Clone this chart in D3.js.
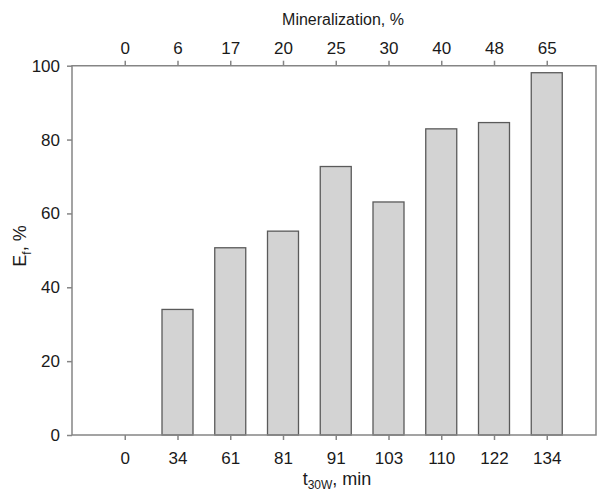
<!DOCTYPE html>
<html>
<head>
<meta charset="utf-8">
<script src="https://cdn.jsdelivr.net/npm/d3@7"></script>
<style>
  body { margin: 0; background: #fff; }
  svg text { font-family: Arial, "Liberation Sans", sans-serif; fill: #1a1a1a; }
</style>
</head>
<body>
<svg id="chart" width="597" height="491"></svg>
<script>
// data
var timeLabels = ['0', '34', '61', '81', '91', '103', '110', '122', '134'];   // t30W, min (bottom)
var mineralLabels = ['0', '6', '17', '20', '25', '30', '40', '48', '65'];     // mineralization, % (top)
var efValues = [0, 34.0, 50.7, 55.2, 72.7, 63.1, 82.9, 84.6, 98.1];          // Ef, %
var yTicks = [0, 20, 40, 60, 80, 100];

var svg = d3.select('#chart');

// plot frame (note: "top" is reserved on window, so use plot* names)
var plotLeft = 72, plotRight = 596, plotTop = 65.7, plotBottom = 435;
var axisColor = '#858585';

var x = d3.scalePoint()
    .domain(d3.range(timeLabels.length))
    .range([plotLeft, 599.5])
    .padding(1);

var y = d3.scaleLinear()
    .domain([0, 100])
    .range([plotBottom, plotTop]);

var barWidth = 31;

// bars
svg.append('g')
   .selectAll('rect')
   .data(efValues)
   .enter().append('rect')
    .attr('x', function(d, i) { return x(i) - barWidth / 2; })
    .attr('y', function(d) { return y(d); })
    .attr('width', barWidth)
    .attr('height', function(d) { return y(0) - y(d); })
    .style('fill', '#d3d3d3')
    .style('stroke', '#5a5a5a')
    .style('stroke-width', 1.3);

// frame
svg.append('path')
   .attr('d', 'M' + plotLeft + ',' + plotTop + 'H' + plotRight + 'V' + plotBottom + 'H' + plotLeft + 'Z')
   .style('fill', 'none')
   .style('stroke', axisColor)
   .style('stroke-width', 1.5);

function styleAxis(g) {
    g.select('.domain').remove();
    g.selectAll('.tick line').style('stroke', axisColor).style('stroke-width', 1.5);
    g.selectAll('.tick text').style('font-size', '17px').style('fill', '#1a1a1a')
      .style('font-family', 'Arial, "Liberation Sans", sans-serif');
}

var xBottom = d3.axisBottom(x)
    .tickFormat(function(i) { return timeLabels[i]; })
    .tickSize(5).tickSizeOuter(0).tickPadding(12);
svg.append('g').attr('transform', 'translate(0,' + plotBottom + ')').call(xBottom).call(styleAxis);

var xTop = d3.axisTop(x)
    .tickFormat(function(i) { return mineralLabels[i]; })
    .tickSize(5).tickSizeOuter(0).tickPadding(6.7);
svg.append('g').attr('transform', 'translate(0,' + plotTop + ')').call(xTop).call(styleAxis);

var yAxis = d3.axisLeft(y)
    .tickValues(yTicks)
    .tickSize(5).tickSizeOuter(0).tickPadding(7);
svg.append('g').attr('transform', 'translate(' + plotLeft + ',0)').call(yAxis).call(styleAxis);

// titles
svg.append('text')
   .attr('x', 343).attr('y', 25)
   .attr('text-anchor', 'middle')
   .style('font-size', '16px')
   .text('Mineralization, %');

var xt = svg.append('text')
   .attr('x', 337).attr('y', 485)
   .attr('text-anchor', 'middle')
   .style('font-size', '18px');
xt.append('tspan').text('t');
xt.append('tspan').attr('dy', 4).style('font-size', '12px').text('30W');
xt.append('tspan').attr('dy', -4).text(', min');

var yt = svg.append('text')
   .attr('transform', 'translate(26,246) rotate(-90)')
   .attr('text-anchor', 'middle')
   .style('font-size', '18px');
yt.append('tspan').text('E');
yt.append('tspan').attr('dy', 5).style('font-size', '12px').text('f');
yt.append('tspan').attr('dy', -5).text(', %');
</script>
</body>
</html>
